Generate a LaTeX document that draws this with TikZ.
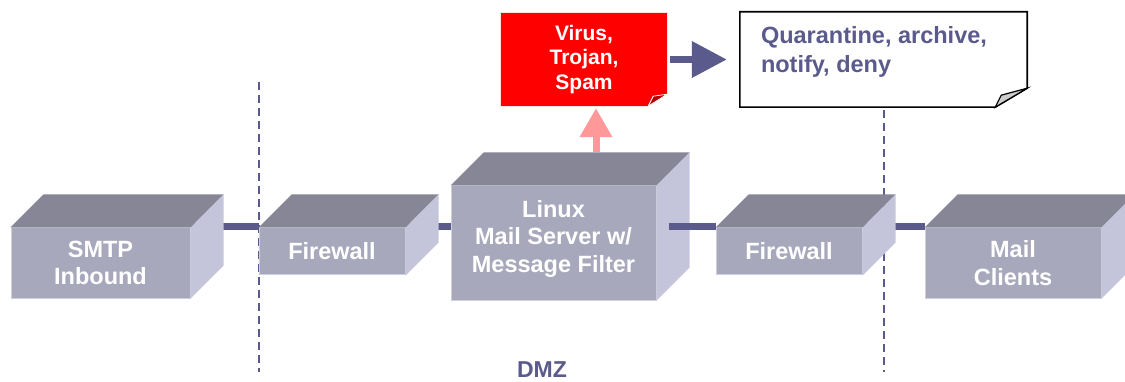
\documentclass[tikz,border=0pt]{standalone}
\usepackage{fontspec}
\setmainfont{Liberation Sans}
\usetikzlibrary{positioning}
\usetikzlibrary{calc, arrows.meta}

\definecolor{boxfront}{RGB}{168,168,188}
\definecolor{boxtop}{RGB}{134,134,150}
\definecolor{boxside}{RGB}{196,196,218}
\definecolor{wire}{RGB}{90,90,140}
\definecolor{alertred}{RGB}{255,0,0}
\definecolor{alertfold}{RGB}{180,0,0}
\definecolor{upflow}{RGB}{255,153,153}

\pgfdeclarelayer{back}
\pgfsetlayers{back,main}

\tikzset{
  box/.style={fill=boxfront, draw=white!45!boxfront, line width=1pt, text=white,
    font=\fontsize{23.5}{27.5}\selectfont\bfseries, align=center, inner sep=0pt},
  wire/.style={draw=wire, line width=7pt},
  zone/.style={draw=wire, line width=2pt, dash pattern=on 8pt off 5pt},
  alert/.style={text=white, font=\fontsize{21}{24.5}\selectfont\bfseries, align=center, inner sep=0pt},
  notetext/.style={text=wire, font=\fontsize{23.5}{29}\selectfont\bfseries, align=left, inner sep=0pt},
}

% top and side faces of a box node
\newcommand{\boxdepth}{33}
\newcommand{\boxfaces}[1]{
  \fill[boxtop] (#1.north west) -- ++(\boxdepth,-\boxdepth) -- ($(#1.north east)+(\boxdepth,-\boxdepth)$) -- (#1.north east) -- cycle;
  \fill[boxside] (#1.north east) -- ++(\boxdepth,-\boxdepth) -- ($(#1.south east)+(\boxdepth,-\boxdepth)$) -- (#1.south east) -- cycle;
}

\begin{document}
\begin{tikzpicture}[x=1pt,y=-1pt]
\useasboundingbox (0,0) rectangle (1125,382);

% DMZ borders
\begin{pgfonlayer}{back}
\draw[zone] (259,82) -- (259,372);
\draw[zone] (884,110) -- (884,372);
\end{pgfonlayer}

% mail path
\node[box, minimum width=179pt, minimum height=70pt] (smtp) at (100.5,263) {SMTP\\Inbound};
\boxfaces{smtp}
\node[box, minimum width=146pt, minimum height=47pt] (fw1) at (332,251.5) {Firewall};
\boxfaces{fw1}
\node[box, minimum width=205pt, minimum height=114pt,
  label={[box, fill=none, draw=none, yshift=4.5pt]center:{Linux\\Mail Server w/\\Message Filter}}] (server) at (553.5,243) {};
\boxfaces{server}
\node[box, minimum width=146pt, minimum height=47pt] (fw2) at (789,251.5) {Firewall};
\boxfaces{fw2}
\node[box, minimum width=176pt, minimum height=70pt] (clients) at (1013,263) {Mail\\Clients};
\boxfaces{clients}

\begin{pgfonlayer}{back}
\draw[wire] ([yshift=1pt]smtp.north east) -- ([yshift=1pt]fw1.north west);
\draw[wire] ([yshift=1pt]fw1.north east) -- ([yshift=1pt]fw1.north east -| server.west);
\draw[wire] ([yshift=1pt]fw2.north east) -- ([yshift=1pt]clients.north west);
\end{pgfonlayer}
\draw[wire] ([xshift=12pt,yshift=1pt]fw2.north west -| server.east) -- ([yshift=1pt]fw2.north west);

% filter result
\node[alert, minimum width=166pt, minimum height=93pt] (virus) at (584,59.5) {Virus,\\Trojan,\\Spam};
\begin{pgfonlayer}{back}
\fill[alertred] (virus.north west) -- (virus.north east) -- ([yshift=12pt]virus.south east)
  -- ([xshift=-19pt]virus.south east) -- (virus.south west) -- cycle;
\filldraw[fill=alertfold, draw=white, line width=0.8pt] ([xshift=-19pt]virus.south east)
  -- ([xshift=-14pt,yshift=10pt]virus.south east) -- ([yshift=12pt]virus.south east) -- cycle;
\end{pgfonlayer}

\node[minimum width=287pt, minimum height=95pt, inner sep=0pt,
  label={[notetext, anchor=north west, xshift=21pt, yshift=-14pt]north west:{Quarantine, archive,\\notify, deny}}] (action) at (883.5,59.5) {};
\begin{pgfonlayer}{back}
\filldraw[fill=white, draw=black, line width=1.6pt] (action.north west) -- (action.north east)
  -- ([yshift=19pt]action.south east) -- ([xshift=-32pt]action.south east) -- (action.south west) -- cycle;
\filldraw[fill=black!20, draw=black, line width=1.2pt] ([xshift=-32pt]action.south east)
  -- ([xshift=-26pt,yshift=12pt]action.south east) -- ([yshift=19pt]action.south east) -- cycle;
\end{pgfonlayer}

% flows
\coordinate (vent) at (596,152);
\draw[draw=upflow, line width=7pt, -{Triangle[length=29pt,width=31pt]}, shorten >=2pt] (vent) -- (vent |- virus.south);
\draw[draw=wire, line width=7pt, -{Triangle[length=35pt,width=35pt]}, shorten <=3pt, shorten >=13pt] (virus.east) -- (action.west);

\node[text=wire, font=\fontsize{23}{27}\selectfont\bfseries, inner sep=0pt] (dmz) at (542,370) {DMZ};
\end{tikzpicture}
\end{document}
